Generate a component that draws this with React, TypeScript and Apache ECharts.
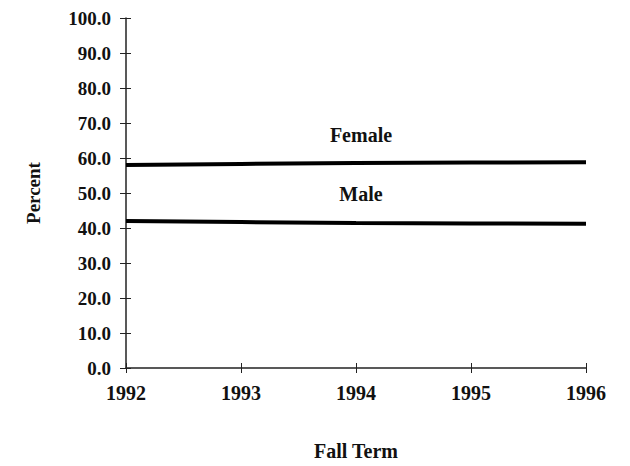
import React, { useEffect, useRef } from "react";
import * as echarts from "echarts";

const years = ["1992", "1993", "1994", "1995", "1996"];
const female = [58.0, 58.3, 58.6, 58.7, 58.8];
const male = [42.0, 41.7, 41.4, 41.3, 41.2];
const labelIndex = 2;

const FONT = "'Liberation Serif', 'DejaVu Serif', serif";

function withLabel(values: number[], name: string, distance: number) {
  return values.map((v, i) =>
    i === labelIndex
      ? {
          value: v,
          label: {
            show: true,
            position: "top",
            distance,
            offset: [5, 0],
            formatter: name,
            fontFamily: FONT,
            fontWeight: "bold",
            fontSize: 20,
            color: "#111",
          },
        }
      : v
  );
}

export default function App() {
  const ref = useRef<HTMLDivElement>(null);
  useEffect(() => {
    const chart = echarts.init(ref.current!, null, { renderer: "svg" });
    const axisLabel = {
      fontFamily: FONT,
      fontWeight: "bold",
      fontSize: 20,
      color: "#111",
    };
    chart.setOption({
      animation: false,
      backgroundColor: "#fff",
      grid: { left: 126, right: 44, top: 18, bottom: 98 },
      xAxis: [
        {
          type: "category",
          data: years,
          boundaryGap: false,
          name: "Fall Term",
          nameLocation: "middle",
          nameGap: 73,
          nameTextStyle: { ...axisLabel },
          axisLine: { lineStyle: { color: "#222", width: 1.5 } },
          axisTick: { show: true, length: 5, alignWithLabel: true, lineStyle: { color: "#222" } },
          axisLabel: { ...axisLabel, margin: 15 },
          splitLine: { show: false },
        },
        {
          type: "category",
          data: years,
          boundaryGap: false,
          position: "bottom",
          axisLine: { show: false },
          axisTick: { show: true, inside: true, length: 5, lineStyle: { color: "#222" } },
          axisLabel: { show: false },
          splitLine: { show: false },
        },
      ],
      yAxis: [
        {
          type: "value",
          min: 0,
          max: 100,
          interval: 10,
          name: "Percent",
          nameLocation: "middle",
          nameGap: 83,
          nameTextStyle: { ...axisLabel, fontSize: 19 },
          axisLine: { show: true, lineStyle: { color: "#222", width: 1.5 } },
          axisTick: { show: true, length: 6, lineStyle: { color: "#222" } },
          axisLabel: { ...axisLabel, fontSize: 19, margin: 15, formatter: (v: number) => v.toFixed(1) },
          splitLine: { show: false },
        },
        {
          type: "value",
          position: "left",
          min: 0,
          max: 100,
          interval: 10,
          axisLine: { show: false },
          axisTick: { show: true, inside: true, length: 5, lineStyle: { color: "#222" } },
          axisLabel: { show: false },
          splitLine: { show: false },
        },
      ],
      series: [
        {
          name: "Female",
          type: "line",
          data: withLabel(female, "Female", 18),
          symbol: "circle",
          symbolSize: 0.1,
          lineStyle: { color: "#000", width: 4 },
          itemStyle: { color: "#000" },
        },
        {
          name: "Male",
          type: "line",
          data: withLabel(male, "Male", 19),
          symbol: "circle",
          symbolSize: 0.1,
          lineStyle: { color: "#000", width: 4 },
          itemStyle: { color: "#000" },
        },
      ],
    });
    return () => chart.dispose();
  }, []);
  return <div ref={ref} style={{ width: 630, height: 466, position: "absolute", left: 0, top: 0 }} />;
}
